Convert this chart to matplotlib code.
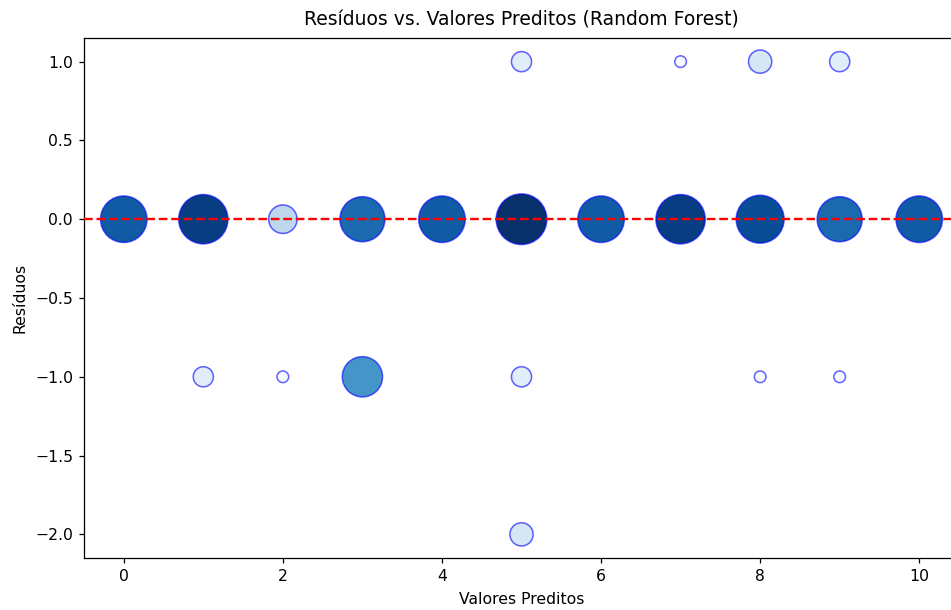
import matplotlib
matplotlib.use("Agg")
import matplotlib.pyplot as plt
import numpy as np

# --- données : (valeur prédite, résidu, nombre d'occurrences) ---
preditos = [0, 1, 2, 3, 4, 5, 6, 7, 8, 9, 10,
            1, 2, 3, 5, 8, 9,
            5, 7, 8, 9,
            5]
residuos = [0, 0, 0, 0, 0, 0, 0, 0, 0, 0, 0,
            -1, -1, -1, -1, -1, -1,
            1, 1, 1, 1,
            -2]
contagens = [16, 18, 6, 15, 16, 19, 16, 18, 17, 15, 16,
             3, 1, 12, 3, 1, 1,
             3, 1, 4, 3,
             4]

W, H = 951, 610
DPI = 112.8  # l'image d'origine semble rendue à ~113 px/pouce
fig = plt.figure(figsize=(W / DPI, H / DPI), dpi=DPI)
# l'axe déborde à droite comme dans l'image d'origine (recadrée)
ax = fig.add_axes([84 / W, 52 / H, 875 / W, 520 / H])

cont = np.array(contagens)
ax.scatter(preditos, residuos, s=cont * 55, c=cont, cmap='Blues',
           edgecolors=(0, 0, 1, 0.6), linewidths=1.0, zorder=2)
ax.axhline(0, color='red', linestyle='--', linewidth=1.5, zorder=3)

ax.set_title('Resíduos vs. Valores Preditos (Random Forest)', fontsize=12, pad=8)
ax.set_xlabel('Valores Preditos', labelpad=5)
ax.set_ylabel('Resíduos', labelpad=5)

fig.savefig('out.png', dpi=DPI)
